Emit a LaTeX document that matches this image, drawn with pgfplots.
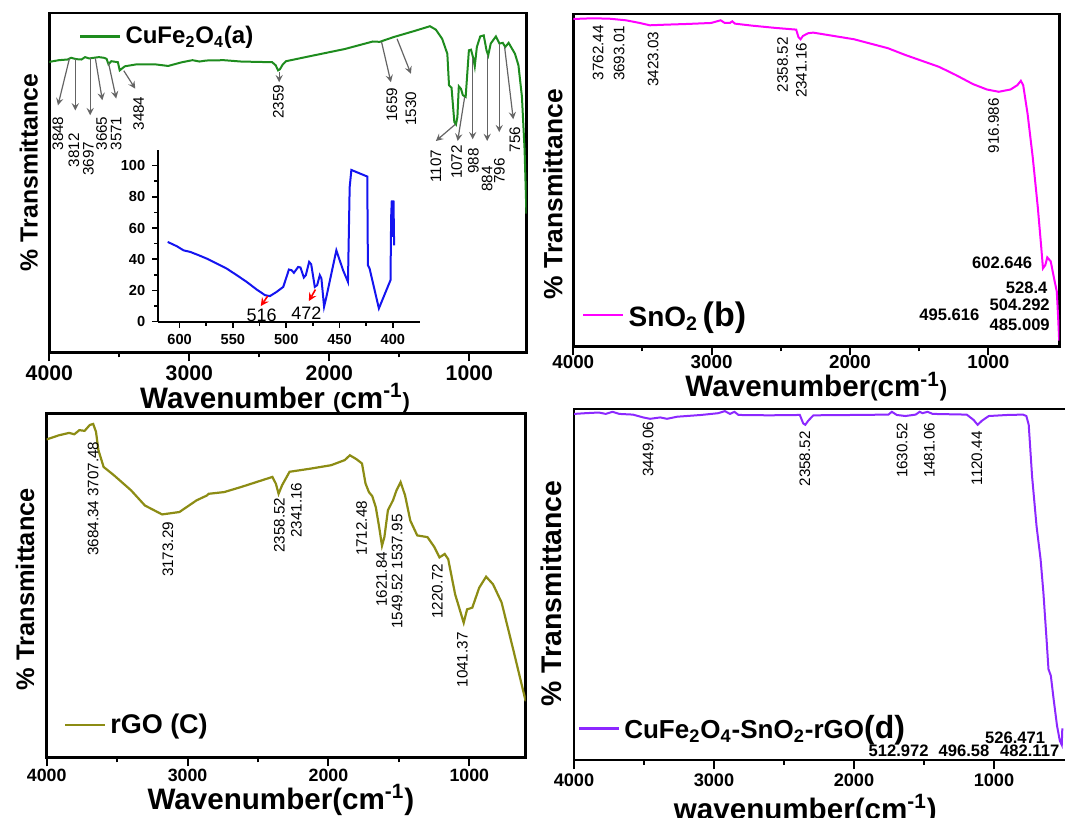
\documentclass[border=0pt]{standalone}
\usepackage{fontspec}
\setmainfont{Liberation Sans}
\usepackage{pgfplots}
\pgfplotsset{compat=1.18}

\definecolor{cufe}{RGB}{30,140,30}
\definecolor{sno}{RGB}{255,0,255}
\definecolor{rgo}{RGB}{140,140,20}
\definecolor{comp}{RGB}{140,40,255}
\definecolor{inset}{RGB}{20,20,240}
\definecolor{annot}{RGB}{100,100,100}

\newcommand{\pk}[3]{\node[rotate=90, anchor=east, inner sep=0.5pt, font=\fontsize{7.6}{9}\selectfont] at (axis cs:#1,#2) {#3};}
\newcommand{\hk}[3]{\node[anchor=center, inner sep=0.5pt, font=\bfseries\fontsize{8.3}{9}\selectfont] at (axis cs:#1,#2) {#3};}
\newcommand{\arr}[4]{\draw[-stealth, annot, line width=0.6pt] (axis cs:#1,#2) -- (axis cs:#3,#4);}

\pgfplotsset{
  ftir/.style={
    scale only axis, anchor=south west,
    x dir=reverse, ymin=0, ymax=100, xmax=4000,
    xtick={1000,2000,3000,4000}, xticklabels={1000,2000,3000,4000},
    minor xtick={1500,2500,3500},
    ytick=\empty, xtick pos=left, tick align=outside,
    major tick length=4.5pt, minor tick length=2.5pt,
    tick style={black, line width=1pt},
    axis line style={line width=1.3pt},
    ylabel={\% Transmittance},
    legend style={draw=none, fill=none, anchor=west, inner sep=0pt},
    legend cell align=left,
    legend image code/.code={\draw[#1, line width=1.2pt] (0pt,0pt) -- (20pt,0pt);},
  },
}

\begin{document}
\begin{tikzpicture}
\useasboundingbox (0,0) rectangle (532.5pt,409pt);

% (a) CuFe2O4
\begin{axis}[ftir,
  at={(24.65pt,232.75pt)}, width=238.7pt, height=169.75pt, xmin=590,
  xticklabel style={font=\bfseries\fontsize{10.6}{12}\selectfont, anchor=center, yshift=-5.8pt},
  xlabel={Wavenumber {\fontsize{11}{11}\selectfont(}cm\textsuperscript{-1}{\fontsize{11}{11}\selectfont)}},
  xlabel style={at={(axis description cs:0.473,-0.134)}, anchor=center, font=\bfseries\fontsize{14.8}{16}\selectfont},
  ylabel style={at={(axis description cs:-0.043,0.53)}, anchor=center, font=\bfseries\fontsize{12.4}{14}\selectfont},
  legend style={at={(0.0616,0.931)}, font=\bfseries\fontsize{12}{14}\selectfont},
]
\addplot[cufe, line width=1pt] table {
4000 85.6
3931 86.1
3869 86.3
3844 86.8
3807 86.4
3770 86.3
3745 87.0
3715 86.6
3683 86.8
3646 87.0
3609 86.8
3591 86.5
3577 84.9
3557 85.8
3510 85.5
3497 83.1
3482 83.6
3460 84.3
3373 84.9
3250 84.9
3151 84.4
3052 85.5
2977 86.1
2928 85.7
2878 86.0
2754 86.1
2630 85.7
2408 85.5
2383 84.6
2366 83.1
2353 83.4
2333 84.8
2309 85.8
2135 87.3
1888 89.4
1689 91.6
1640 91.5
1541 92.9
1392 94.7
1281 96.1
1239 95.1
1194 92.4
1157 88.0
1145 78.7
1127 78.0
1107 67.9
1095 67.2
1085 69.4
1075 78.4
1060 77.7
1046 75.8
1026 75.3
1003 89.0
988 89.2
971 86.6
961 84.3
946 90.0
922 93.1
897 93.4
877 89.0
865 87.5
847 91.0
810 93.1
785 91.0
761 91.2
743 90.0
719 91.2
674 88.0
649 84.6
624 75.3
605 59.6
592 40.9
};
\addlegendentry{CuFe\textsubscript{2}O\textsubscript{4}(a)}
\arr{3856}{86.6}{3938}{72.8} \pk{3938}{69.9}{3848}
\arr{3814}{86.3}{3814}{71.3} \pk{3824}{65.0}{3812}
\arr{3708}{86.6}{3708}{69.9} \pk{3720}{62.5}{3697}
\arr{3671}{86.6}{3621}{74.3} \pk{3626}{69.9}{3665}
\arr{3577}{85.3}{3522}{74.8} \pk{3522}{69.9}{3571}
\arr{3468}{83.0}{3386}{77.7} \pk{3361}{75.8}{3484}
\arr{2358}{82.6}{2358}{79.6} \pk{2363}{79.2}{2359}
\arr{1627}{91.5}{1560}{79.6} \pk{1553}{78.4}{1659}
\arr{1516}{92.4}{1417}{82.1} \pk{1417}{77.2}{1530}
\arr{1100}{67.2}{1239}{62.3} \pk{1239}{60.1}{1107}
\arr{1033}{75.3}{1083}{62.3} \pk{1090}{61.5}{1072}
\arr{976}{86.6}{976}{62.8} \pk{971}{60.5}{988}
\arr{872}{87.5}{872}{62.3} \pk{872}{55.2}{884}
\arr{786}{91.0}{786}{64.9} \pk{786}{57.6}{796}
\arr{748}{90.0}{686}{68.7} \pk{674}{66.9}{756}
\end{axis}

% inset of (a)
\begin{axis}[scale only axis, anchor=south west,
  at={(79.15pt,248.15pt)}, width=130.6pt, height=85.85pt,
  x dir=reverse, xmin=375, xmax=620, ymin=0, ymax=110,
  axis x line*=bottom, axis y line*=left,
  axis line style={line width=1pt},
  xtick={400,450,500,550,600}, minor x tick num=1,
  ytick={0,20,40,60,80,100}, minor y tick num=1,
  tick align=outside, major tick length=3pt, minor tick length=2pt,
  tick style={black, line width=0.8pt},
  tick label style={font=\bfseries\fontsize{7.3}{8}\selectfont},
  xticklabel style={/pgf/number format/assume math mode=true},
  yticklabel style={/pgf/number format/assume math mode=true},
]
\addplot[inset, line width=1pt] table {
611.2 51.1
602.5 48.3
596.3 45.7
590.0 44.7
582.2 42.6
574.5 40.4
565.1 37.2
555.8 34.0
546.4 29.8
537.1 25.5
527.7 20.6
519.9 17.0
515.3 16.4
509.0 19.1
502.8 22.3
499.7 28.7
497.5 33.4
495.0 33.0
492.8 31.3
488.8 35.1
486.6 34.7
483.5 28.3
481.6 29.8
478.5 38.3
476.6 36.8
473.2 22.3
471.0 23.4
468.5 29.8
467.0 27.7
464.5 9.6
462.3 16.0
453.0 45.7
446.7 33.0
442.1 25.5
440.5 86.2
438.9 97.2
424.0 93.0
423.4 36.2
421.8 34.0
413.1 8.5
402.2 26.6
401.6 67.0
401.0 77.7
400.0 54.3
399.4 77.7
398.8 48.9
};
\draw[-stealth, red, line width=0.8pt] (axis cs:517.4,16.4) -- (axis cs:523.9,10.0);
\draw[-stealth, red, line width=0.8pt] (axis cs:472.6,20.6) -- (axis cs:478.8,13.2);
\node[font=\fontsize{9}{10}\selectfont, inner sep=0pt] at (axis cs:523,4.3) {516};
\node[font=\fontsize{9}{10}\selectfont, inner sep=0pt] at (axis cs:481,5.3) {472};
\end{axis}

% (b) SnO2
\begin{axis}[ftir,
  at={(286.65pt,235.75pt)}, width=243pt, height=166.25pt, xmin=487,
  xticklabel style={font=\bfseries\fontsize{9.4}{11}\selectfont, anchor=center, yshift=-3.5pt},
  xlabel={Wavenumber{\fontsize{11}{11}\selectfont(}cm\textsuperscript{-1}{\fontsize{11}{11}\selectfont)}},
  xlabel style={at={(axis description cs:0.5,-0.12)}, anchor=center, font=\bfseries\fontsize{14.8}{16}\selectfont},
  ylabel style={at={(axis description cs:-0.042,0.458)}, anchor=center, font=\bfseries\fontsize{13.2}{15}\selectfont},
  legend style={at={(0.0175,0.094)}, font=\bfseries\fontsize{14}{16}\selectfont},
]
\addplot[sno, line width=1pt] table {
4000 98.5
3865 98.7
3742 98.6
3619 98.1
3520 97.3
3447 96.6
3324 96.8
3176 97.0
3004 97.3
2935 98.1
2905 97.3
2868 97.3
2851 97.8
2832 97.1
2709 96.5
2536 95.8
2389 95.3
2372 93.0
2357 92.4
2340 93.4
2303 94.2
2266 94.4
1971 92.4
1725 89.7
1602 87.7
1356 84.1
1233 81.6
1110 78.9
1011 77.3
925 76.6
839 77.3
790 78.6
765 79.9
748 78.6
716 69.9
679 56.9
642 41.7
618 30.1
605 23.5
588 24.5
574 26.8
549 25.6
525 20.5
505 16.5
495 8.4
488 1.8
};
\addlegendentry{SnO\textsubscript{2}\,{\fontsize{17}{18}\selectfont(b)}}
\pk{3820}{97.0}{3762.44}
\pk{3668}{96.8}{3693.01}
\pk{3422}{95.1}{3423.03}
\pk{2487}{93.4}{2358.52}
\pk{2352}{91.7}{2341.16}
\pk{962}{75.1}{916.986}
\hk{900}{25.3}{602.646}
\hk{723}{17.8}{528.4}
\hk{773}{12.4}{504.292}
\hk{1282}{9.4}{495.616}
\hk{773}{6.4}{485.009}
\end{axis}

% (c) rGO
\begin{axis}[ftir,
  at={(23.35pt,30.35pt)}, width=239.5pt, height=172pt, xmin=600,
  xticklabel style={font=\bfseries\fontsize{8.9}{10}\selectfont, anchor=center, yshift=-4.5pt},
  xlabel={Wavenumber(cm\textsuperscript{-1})},
  xlabel style={at={(axis description cs:0.489,-0.124)}, anchor=center, font=\bfseries\fontsize{14.8}{16}\selectfont},
  ylabel style={at={(axis description cs:-0.045,0.489)}, anchor=center, font=\bfseries\fontsize{12.7}{14}\selectfont},
  legend style={at={(0.035,0.094)}, font=\bfseries\fontsize{13.5}{15}\selectfont},
]
\addplot[rgo, line width=1.1pt] table {
4000 92.4
3914 93.6
3841 94.3
3804 93.9
3768 95.1
3731 94.9
3694 96.6
3670 96.9
3650 94.6
3633 89.3
3596 84.4
3523 82.0
3401 77.6
3303 73.2
3181 70.6
3058 71.3
2936 74.7
2863 76.1
2850 76.6
2740 77.1
2618 78.6
2398 81.5
2373 79.5
2354 76.6
2329 79.1
2276 83.0
2129 83.9
1982 84.9
1884 86.4
1848 87.8
1799 86.6
1762 85.4
1737 79.6
1713 77.1
1689 75.9
1664 72.7
1640 66.9
1620 61.5
1603 64.0
1578 71.8
1542 74.7
1517 77.6
1488 80.0
1456 76.1
1419 68.8
1370 64.5
1297 64.0
1248 61.1
1212 58.1
1175 59.1
1150 57.6
1101 47.4
1040 39.1
1016 43.0
979 43.5
930 49.3
881 52.5
832 50.3
771 45.0
686 30.9
600 16.3
};
\addlegendentry{rGO (C)}
\pk{3671}{92.2}{3684.34 3707.48}
\pk{3139}{68.8}{3173.29}
\pk{2349}{75.9}{2358.52}
\pk{2227}{80.2}{2341.16}
\pk{1764}{74.9}{1712.48}
\pk{1622}{60.1}{1621.84}
\pk{1512}{71.0}{1549.52 1537.95}
\pk{1227}{56.7}{1220.72}
\pk{1049}{36.7}{1041.37}
\end{axis}

% (d) CuFe2O4-SnO2-rGO
\begin{axis}[ftir,
  at={(287pt,29pt)}, width=247.1pt, height=175.5pt, xmin=470,
  xticklabel style={font=\bfseries\fontsize{9.1}{10}\selectfont, anchor=center, yshift=-5.5pt},
  xlabel={wavenumber(cm\textsuperscript{-1})},
  xlabel style={at={(axis description cs:0.468,-0.142)}, anchor=center, font=\bfseries\fontsize{14.8}{16}\selectfont},
  ylabel style={at={(axis description cs:-0.046,0.474)}, anchor=center, font=\bfseries\fontsize{14.2}{16}\selectfont},
  legend style={at={(0.007,0.090)}, font=\bfseries\fontsize{13}{15}\selectfont},
]
\addplot[comp, line width=1pt] table {
4000 98.6
3920 98.8
3822 99.0
3774 98.6
3725 99.2
3676 98.6
3579 98.4
3506 97.6
3457 97.2
3384 97.6
3336 97.2
3263 97.8
3092 98.3
2971 98.8
2922 99.4
2886 98.6
2854 99.2
2825 98.3
2606 98.2
2387 98.3
2363 95.9
2348 95.5
2326 96.7
2290 98.2
1998 98.3
1754 98.4
1730 99.2
1694 98.3
1633 98.0
1560 98.4
1531 99.2
1511 98.8
1475 99.2
1438 98.6
1195 98.4
1146 96.9
1117 95.5
1085 96.7
1037 98.0
903 98.3
793 98.4
769 98.0
752 95.5
728 80.8
696 66.6
667 57.1
647 47.6
623 33.4
611 25.9
594 24.0
574 17.3
550 9.8
530 5.5
516 4.3
512 9.0
};
\addlegendentry{CuFe\textsubscript{2}O\textsubscript{4}-SnO\textsubscript{2}-rGO{\fontsize{16}{17}\selectfont(d)}}
\pk{3470}{96.7}{3449.06}
\pk{2350}{94.0}{2358.52}
\pk{1657}{96.4}{1630.52}
\pk{1462}{96.4}{1481.06}
\pk{1122}{94.0}{1120.44}
\hk{849}{6.4}{526.471}
\hk{1681}{2.5}{512.972}
\hk{1214}{2.5}{496.58}
\hk{745}{2.5}{482.117}
\end{axis}
\end{tikzpicture}
\end{document}
